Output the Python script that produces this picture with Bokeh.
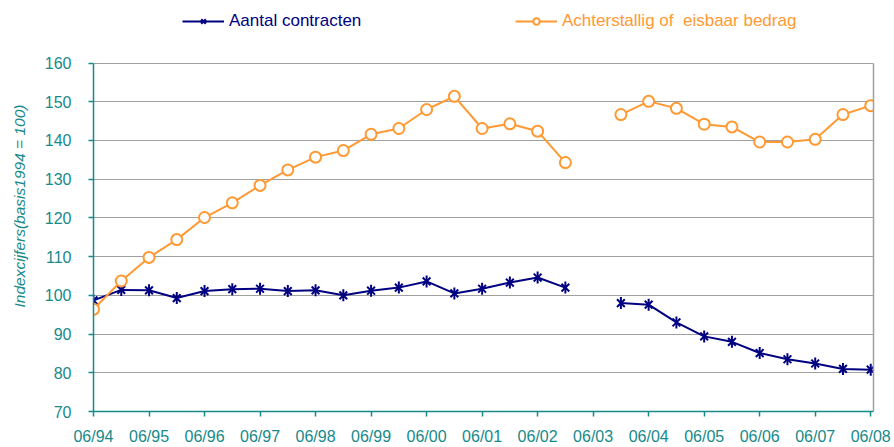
import math
from bokeh.plotting import figure
from bokeh.models import Range1d, FixedTicker, Legend, LegendItem, LinearAxis
from bokeh.embed import file_html
from bokeh.resources import INLINE

NaN = float("nan")

periods = ["06/94", "12/94", "06/95", "12/95", "06/96", "12/96", "06/97", "12/97",
           "06/98", "12/98", "06/99", "12/99", "06/00", "12/00", "06/01", "12/01",
           "06/02", "12/02", "06/03", "12/03", "06/04", "12/04", "06/05", "12/05",
           "06/06", "12/06", "06/07", "12/07", "06/08"]

aantal_contracten = [98.7, 101.4, 101.3, 99.3, 101.1, 101.6, 101.7, 101.1,
                     101.3, 100.0, 101.2, 102.0, 103.6, 100.5, 101.7, 103.3,
                     104.6, 102.0, NaN, 98.0, 97.6, 93.0, 89.4, 88.0,
                     85.1, 83.5, 82.4, 81.0, 80.8]

achterstallig = [96.4, 103.7, 109.8, 114.4, 120.1, 123.9, 128.4, 132.4,
                 135.7, 137.4, 141.6, 143.1, 148.0, 151.4, 143.1, 144.3,
                 142.4, 134.3, NaN, 146.7, 150.1, 148.3, 144.2, 143.5,
                 139.6, 139.6, 140.3, 146.7, 149.0]

tick_labels = ["06/94", "06/95", "06/96", "06/97", "06/98", "06/99", "06/00", "06/01",
               "06/02", "06/03", "06/04", "06/05", "06/06", "06/07", "06/08"]

y_ticks = [70, 80, 90, 100, 110, 120, 130, 140, 150, 160]
y_title = "Indexcijfers(basis1994 = 100)"

x = list(range(len(periods)))
tick_pos = [periods.index(t) for t in tick_labels]

TEAL = "#178a8a"
NAVY = "#000080"
ORANGE = "#ff9933"
GRID = "#a0a0a0"
FONT = "Liberation Sans"

W, H = 894, 447
FRAME_L, FRAME_R, FRAME_TOP160, FRAME_B = 93, 873, 63, 414
y_lo, y_hi = y_ticks[0], y_ticks[-1]
px_per_unit = (FRAME_B - FRAME_TOP160) / (y_hi - y_lo)
y_top = y_hi + FRAME_TOP160 / px_per_unit

p = figure(width=W, height=H, output_backend="svg", toolbar_location=None,
           x_range=Range1d(0, 28.1), y_range=Range1d(y_lo, y_top),
           min_border_left=FRAME_L, min_border_right=W - FRAME_R,
           min_border_top=0, min_border_bottom=H - FRAME_B)

p.outline_line_color = None
p.background_fill_color = "white"
p.border_fill_color = "white"

p.xgrid.visible = False
p.ygrid.grid_line_color = GRID
p.ygrid.grid_line_width = 1
p.ygrid.ticker = FixedTicker(ticks=y_ticks)

p.xaxis.ticker = FixedTicker(ticks=tick_pos)
p.xaxis.major_label_overrides = {pos: lab for pos, lab in zip(tick_pos, tick_labels)}
p.yaxis.ticker = FixedTicker(ticks=y_ticks)
p.yaxis.bounds = (y_lo, y_hi)

for ax in (p.xaxis, p.yaxis):
    ax.axis_line_color = TEAL
    ax.axis_line_width = 1.5
    ax.major_tick_line_color = TEAL
    ax.major_tick_line_width = 1.5
    ax.major_tick_out = 5
    ax.major_tick_in = 0
    ax.minor_tick_line_color = None
    ax.major_label_text_color = TEAL
    ax.major_label_text_font = FONT
    ax.major_label_text_font_size = "16px"

p.xaxis.major_label_standoff = 11
p.yaxis.major_label_standoff = 17

# right border of the plot area
right_ax = LinearAxis(bounds=(y_lo, y_hi), ticker=FixedTicker(ticks=[]),
                      axis_line_color=GRID, axis_line_width=1.5,
                      major_tick_line_color=None, minor_tick_line_color=None)
p.add_layout(right_ax, "right")

# y axis title (separate label-only axis so it can sit where the reference has it)
title_center = 122.3
half = y_hi - title_center
title_ax = LinearAxis(bounds=(title_center - half, y_hi), ticker=FixedTicker(ticks=[]),
                      axis_line_color=None, major_tick_line_color=None,
                      minor_tick_line_color=None,
                      axis_label=y_title, axis_label_standoff=14,
                      axis_label_text_font=FONT, axis_label_text_font_style="italic",
                      axis_label_text_font_size="15.5px", axis_label_text_color=TEAL)
p.add_layout(title_ax, "left")

l1 = p.line(x, aantal_contracten, line_color=NAVY, line_width=2)
s1a = p.scatter(x, aantal_contracten, marker="x", size=11, line_color=NAVY, line_width=2)
s1b = p.scatter(x, aantal_contracten, marker="dash", angle=math.pi / 2, size=12,
                line_color=NAVY, line_width=2)

l2 = p.line(x, achterstallig, line_color=ORANGE, line_width=2)
s2 = p.scatter(x, achterstallig, marker="circle", size=11, line_color=ORANGE,
               fill_color="white", line_width=2)

def make_legend(label, renderers, color, lx):
    return Legend(items=[LegendItem(label=label, renderers=renderers)],
                  location=(lx, 380), orientation="horizontal",
                  border_line_color=None, background_fill_alpha=0,
                  padding=0, margin=0, spacing=0,
                  glyph_width=42, glyph_height=16, label_height=16,
                  label_standoff=5,
                  label_text_font=FONT, label_text_font_size="17px",
                  label_text_color=color)

p.add_layout(make_legend("Aantal contracten", [l1, s1a, s1b], NAVY, 89))
p.add_layout(make_legend("Achterstallig of  eisbaar bedrag", [l2, s2], ORANGE, 422))

open("out.html", "w").write(file_html(p, INLINE))
